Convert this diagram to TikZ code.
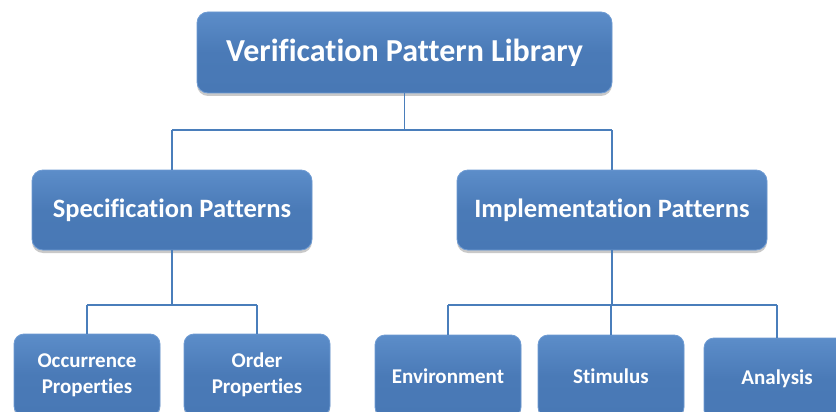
\documentclass[tikz,border=0pt]{standalone}
\usepackage{fontspec}
\setmainfont{Carlito}[Ligatures={NoCommon}]
\usetikzlibrary{shadows,positioning}
\definecolor{boxtop}{HTML}{5C8DC9}
\definecolor{boxbot}{HTML}{4878B5}
\definecolor{boxedge}{HTML}{6E9BD3}
\definecolor{linkblue}{HTML}{4A7EBB}
\tikzset{
  box/.style={rectangle, rounded corners=11pt, draw=boxedge, line width=0.8pt,
    top color=boxtop, bottom color=boxbot, middle color=boxbot!90!boxtop,
    text=white, font=\bfseries, align=center, inner sep=0pt,
    drop shadow={shadow xshift=0pt, shadow yshift=-3pt, opacity=0.35, fill=black!60}},
  bigbox/.style={box, minimum width=415pt, minimum height=81pt, font=\bfseries\fontsize{32}{36}\selectfont},
  midbox/.style={box, minimum height=80pt, font=\bfseries\fontsize{26.5}{30}\selectfont},
  smallbox/.style={box, minimum width=146pt, minimum height=82pt, rounded corners=10pt, font=\bfseries\fontsize{21}{26}\selectfont},
  link/.style={draw=linkblue, line width=1.6pt}
}
\begin{document}
\begin{tikzpicture}[x=1pt,y=-1pt]
\useasboundingbox (0,0) rectangle (836,412);
\clip (0,0) rectangle (836,412);
\fill[white] (0,0) rectangle (836,412);
\coordinate (j1) at (404.5,130);
\coordinate (j2) at (172,305);
\coordinate (j3) at (612,305);
\node[bigbox] (lib) at (404.5,52.5) {Verification Pattern Library};
\node[midbox, minimum width=280pt] (spec) at (172,210) {Specification Patterns};
\node[midbox, minimum width=310pt] (impl) at (612,210) {Implementation Patterns};
\node[smallbox] (occ) at (87,375) {Occurrence\\Properties};
\node[smallbox] (ord) at (257,375) {Order\\Properties};
\node[smallbox] (env) at (448,376) {Environment};
\node[smallbox] (stim) at (611,376) {Stimulus};
\node[smallbox] (ana) at (777,379) {Analysis};
\path[link] (lib.south) -- (j1);
\path[link] (j1 -| spec.north) -- (j1 -| impl.north);
\path[link] (j1 -| spec.north) -- (spec.north);
\path[link] (j1 -| impl.north) -- (impl.north);
\path[link] (spec.south) -- (j2);
\path[link] (j2 -| occ.north) -- (j2 -| ord.north);
\path[link] (j2 -| occ.north) -- (occ.north);
\path[link] (j2 -| ord.north) -- (ord.north);
\path[link] (impl.south) -- (j3);
\path[link] (j3 -| env.north) -- (j3 -| ana.north);
\path[link] (j3 -| env.north) -- (env.north);
\path[link] (j3 -| stim.north) -- (stim.north);
\path[link] (j3 -| ana.north) -- (ana.north);
\end{tikzpicture}
\end{document}
